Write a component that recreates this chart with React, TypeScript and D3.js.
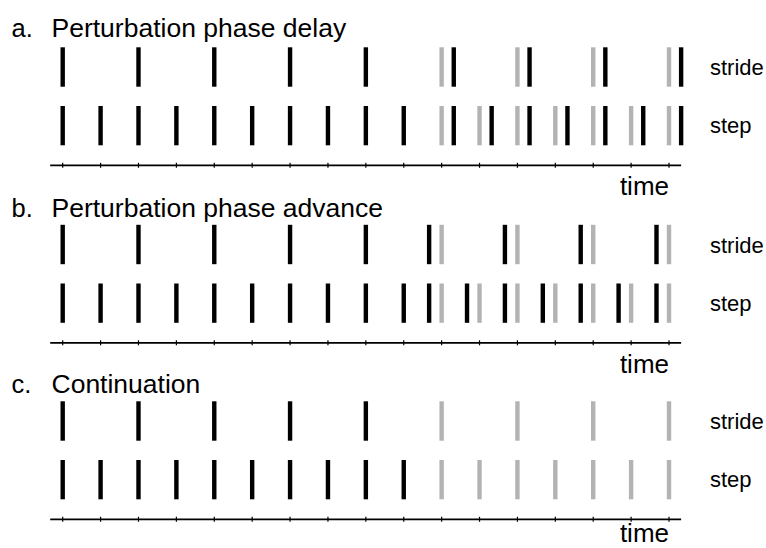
import React from "react";
import * as d3 from "d3";

// ---------- data (positions in beat units; tick i = i-th beat) ----------
const panelLetters = ["a.", "b.", "c."];
const panelTitles = ["Perturbation phase delay", "Perturbation phase advance", "Continuation"];
const rowLabels = ["stride", "step"];
const axisLabel = "time";
const tickBeats = [0, 1, 2, 3, 4, 5, 6, 7, 8, 9, 10, 11, 12, 13, 14, 15, 16];

// a. delay
const delayStrideBlack = [0, 2, 4, 6, 8, 10.32, 12.32, 14.32, 16.32];
const delayStrideGray = [10, 12, 14, 16];
const delayStepBlack = [0, 1, 2, 3, 4, 5, 6, 7, 8, 9, 10.32, 11.32, 12.32, 13.32, 14.32, 15.32, 16.32];
const delayStepGray = [10, 11, 12, 13, 14, 15, 16];

// b. advance
const advanceStrideBlack = [0, 2, 4, 6, 8, 9.67, 11.67, 13.67, 15.67];
const advanceStrideGray = [10, 12, 14, 16];
const advanceStepBlack = [0, 1, 2, 3, 4, 5, 6, 7, 8, 9, 9.67, 10.67, 11.67, 12.67, 13.67, 14.67, 15.67];
const advanceStepGray = [10, 11, 12, 13, 14, 15, 16];

// c. continuation
const contStrideBlack = [0, 2, 4, 6, 8];
const contStrideGray = [10, 12, 14, 16];
const contStepBlack = [0, 1, 2, 3, 4, 5, 6, 7, 8, 9];
const contStepGray = [10, 11, 12, 13, 14, 15, 16];

const panels = [
  { strideBlack: delayStrideBlack, strideGray: delayStrideGray, stepBlack: delayStepBlack, stepGray: delayStepGray },
  { strideBlack: advanceStrideBlack, strideGray: advanceStrideGray, stepBlack: advanceStepBlack, stepGray: advanceStepGray },
  { strideBlack: contStrideBlack, strideGray: contStrideGray, stepBlack: contStepBlack, stepGray: contStepGray },
];

// ---------- layout ----------
const W = 766;
const H = 548;
const panelOffsets = [0, 177.5, 354];
const titleBaselines = [37, 216.5, 393];
const FONT = "'Liberation Sans', Arial, Helvetica, sans-serif";
const BLACK = "#000";
const GRAY = "#b3b3b3";
const BAR_W = 4.4;

const x = d3.scaleLinear().domain([0, 16]).range([62.7, 669]);

function Bars({ values, color, y0, y1 }: { values: number[]; color: string; y0: number; y1: number }) {
  return (
    <g>
      {values.map((v, i) => (
        <rect key={i} x={x(v) - BAR_W / 2} y={y0} width={BAR_W} height={y1 - y0} fill={color} />
      ))}
    </g>
  );
}

export default function App() {
  const axisStart = x(-0.33);
  const axisEnd = x(16.32);
  return (
    <svg
      width={W}
      height={H}
      viewBox={`0 0 ${W} ${H}`}
      style={{ position: "absolute", left: 0, top: 0, background: "#fff" }}
    >
      <rect x={0} y={0} width={W} height={H} fill="#fff" />
      {panels.map((p, pi) => {
        const off = panelOffsets[pi];
        const strideTop = off + 47.3;
        const strideBot = off + 86.7;
        const stepTop = off + 106;
        const stepBot = off + 145.3;
        const axisY = off + 165.3;
        const timeY = Math.min(axisY + 29.7, 542);
        return (
          <g key={pi}>
            <text x={11.5} y={titleBaselines[pi]} fontFamily={FONT} fontSize={25.5} fill="#000">
              {panelLetters[pi]}
            </text>
            <text x={51.5} y={titleBaselines[pi]} fontFamily={FONT} fontSize={26.5} fill="#000">
              {panelTitles[pi]}
            </text>
            <Bars values={p.strideGray} color={GRAY} y0={strideTop} y1={strideBot} />
            <Bars values={p.strideBlack} color={BLACK} y0={strideTop} y1={strideBot} />
            <Bars values={p.stepGray} color={GRAY} y0={stepTop} y1={stepBot} />
            <Bars values={p.stepBlack} color={BLACK} y0={stepTop} y1={stepBot} />
            <text x={710} y={off + 75} fontFamily={FONT} fontSize={22} fill="#000">
              {rowLabels[0]}
            </text>
            <text x={710} y={off + 133.3} fontFamily={FONT} fontSize={22} fill="#000">
              {rowLabels[1]}
            </text>
            <line x1={axisStart} x2={axisEnd} y1={axisY} y2={axisY} stroke="#000" strokeWidth={1.8} />
            {tickBeats.map((t) => (
              <line key={t} x1={x(t)} x2={x(t)} y1={axisY - 2.5} y2={axisY + 2.5} stroke="#000" strokeWidth={1.2} />
            ))}
            <text x={669} y={timeY} textAnchor="end" fontFamily={FONT} fontSize={26} fill="#000">
              {axisLabel}
            </text>
          </g>
        );
      })}
    </svg>
  );
}
